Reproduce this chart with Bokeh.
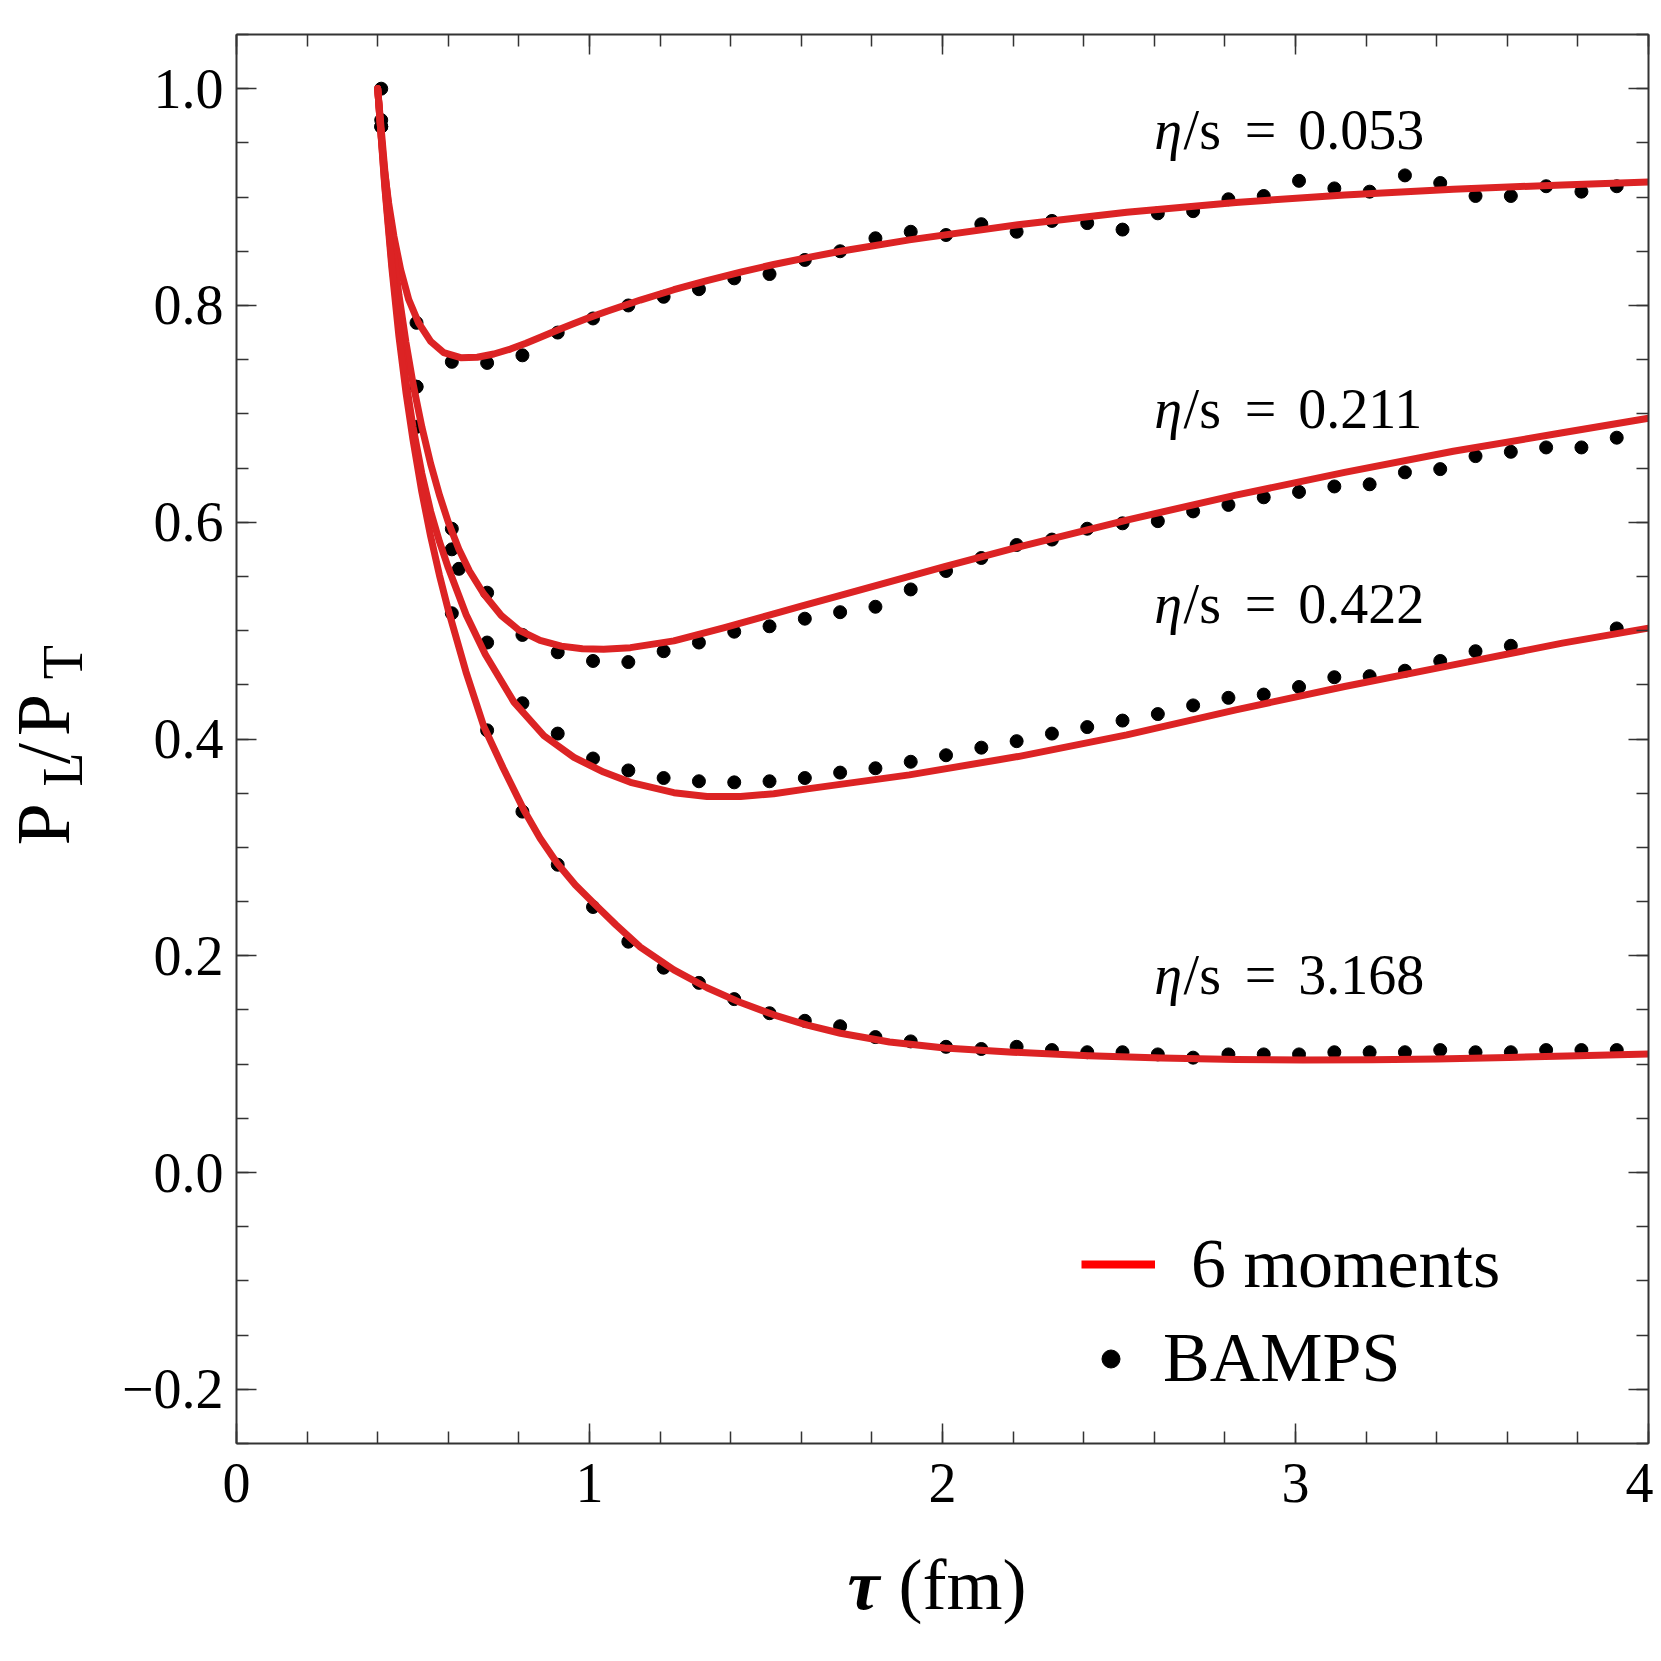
import math
from bokeh.plotting import figure
from bokeh.layouts import row, column
from bokeh.models import (Range1d, LinearAxis, FixedTicker, Label, Legend, LegendItem,
                          CustomJSTickFormatter)
from bokeh.embed import file_html
from bokeh.resources import INLINE

# ---------------- data ----------------
eta_values = ["0.053", "0.211", "0.422", "3.168"]

# BAMPS time grid (fm)
bamps_tau = [0.41, 0.51, 0.61, 0.71, 0.81, 0.91, 1.01, 1.11, 1.21, 1.31, 1.41, 1.51,
             1.61, 1.71, 1.81, 1.91, 2.01, 2.11, 2.21, 2.31, 2.41, 2.51, 2.61, 2.71,
             2.81, 2.91, 3.01, 3.11, 3.21, 3.31, 3.41, 3.51, 3.61, 3.71, 3.81, 3.91]

bamps_053 = [1.000, 0.784, 0.748, 0.747, 0.754, 0.775, 0.788, 0.800, 0.808, 0.815, 0.825, 0.829,
             0.842, 0.850, 0.862, 0.868, 0.865, 0.875, 0.868, 0.878, 0.876, 0.870, 0.885, 0.887,
             0.898, 0.901, 0.915, 0.908, 0.905, 0.920, 0.913, 0.901, 0.901, 0.910, 0.905, 0.910]

bamps_211 = [0.971, 0.725, 0.594, 0.535, 0.496, 0.480, 0.472, 0.471, 0.481, 0.489, 0.499, 0.504,
             0.511, 0.517, 0.522, 0.538, 0.555, 0.567, 0.579, 0.584, 0.594, 0.599, 0.601, 0.610,
             0.616, 0.623, 0.628, 0.633, 0.635, 0.646, 0.649, 0.661, 0.665, 0.669, 0.669, 0.678]

bamps_tau_422 = [0.41, 0.51, 0.61, 0.63, 0.71, 0.81, 0.91, 1.01, 1.11, 1.21, 1.31, 1.41, 1.51,
                 1.61, 1.71, 1.81, 1.91, 2.01, 2.11, 2.21, 2.31, 2.41, 2.51, 2.61, 2.71,
                 2.81, 2.91, 3.01, 3.11, 3.21, 3.31, 3.41, 3.51, 3.61, 3.91]
bamps_422 = [0.965, 0.725, 0.575, 0.557, 0.489, 0.433, 0.405, 0.382, 0.371, 0.364, 0.361, 0.360, 0.361,
             0.364, 0.369, 0.373, 0.379, 0.385, 0.392, 0.398, 0.405, 0.411, 0.417, 0.423, 0.431,
             0.438, 0.441, 0.448, 0.457, 0.458, 0.463, 0.472, 0.481, 0.486, 0.502]

bamps_3168 = [0.965, 0.688, 0.516, 0.408, 0.333, 0.284, 0.245, 0.213, 0.189, 0.175, 0.160, 0.147,
              0.140, 0.135, 0.125, 0.121, 0.116, 0.114, 0.116, 0.113, 0.111, 0.111, 0.109, 0.106,
              0.109, 0.109, 0.109, 0.111, 0.111, 0.111, 0.113, 0.111, 0.111, 0.113, 0.113, 0.113]

# 6-moment curves
mom_tau_053 = [0.400, 0.410, 0.419, 0.431, 0.446, 0.465, 0.488, 0.516, 0.550, 0.587, 0.635, 0.682,
               0.729, 0.776, 0.820, 0.861, 0.910, 0.956, 1.000, 1.050, 1.144, 1.239, 1.333, 1.428,
               1.522, 1.617, 1.711, 1.906, 2.214, 2.522, 2.831, 3.139, 3.447, 3.756, 4.000]
mom_053 = [1.000, 0.956, 0.925, 0.8945, 0.8637, 0.833, 0.8053, 0.7838, 0.7668, 0.7565, 0.7518, 0.7522,
           0.7552, 0.7598, 0.7652, 0.7707, 0.7773, 0.7833, 0.7888, 0.7947, 0.8050, 0.8145, 0.8230, 0.8308,
           0.8378, 0.8442, 0.8500, 0.8605, 0.8745, 0.8860, 0.8950, 0.9020, 0.9073, 0.9112, 0.9140]

mom_tau_211 = [0.400, 0.420, 0.440, 0.460, 0.480, 0.500, 0.525, 0.550, 0.575, 0.600, 0.630, 0.660,
               0.700, 0.750, 0.800, 0.860, 0.920, 0.980, 1.040, 1.116, 1.239, 1.380, 1.522, 1.600,
               1.711, 1.906, 2.006, 2.214, 2.522, 2.831, 3.139, 3.447, 3.756, 4.000]
mom_211 = [1.000, 0.925, 0.862, 0.810, 0.766, 0.728, 0.688, 0.654, 0.625, 0.600, 0.575, 0.555,
           0.534, 0.514, 0.5005, 0.491, 0.4857, 0.4832, 0.4828, 0.4843, 0.4905, 0.5025, 0.5155, 0.5225,
           0.5325, 0.5500, 0.5590, 0.5770, 0.6020, 0.6250, 0.6460, 0.6655, 0.6825, 0.6960]

mom_tau_422 = [0.400, 0.420, 0.440, 0.460, 0.480, 0.500, 0.525, 0.550, 0.575, 0.600, 0.650, 0.705,
               0.786, 0.871, 0.956, 1.040, 1.116, 1.239, 1.333, 1.428, 1.522, 1.617, 1.906, 2.214,
               2.522, 2.831, 3.139, 3.447, 3.756, 4.000]
mom_422 = [1.000, 0.912, 0.840, 0.780, 0.730, 0.688, 0.645, 0.610, 0.582, 0.558, 0.515, 0.478,
           0.434, 0.403, 0.383, 0.3695, 0.3600, 0.3505, 0.3470, 0.3470, 0.3495, 0.3540, 0.3669, 0.3838,
           0.4038, 0.4269, 0.4484, 0.4684, 0.4885, 0.5023]

mom_tau_3168 = [0.400, 0.420, 0.440, 0.460, 0.480, 0.500, 0.525, 0.550, 0.575, 0.600, 0.650, 0.7006,
                0.755, 0.814, 0.860, 0.9085, 0.960, 1.012, 1.075, 1.144, 1.239, 1.333, 1.428, 1.522,
                1.617, 1.711, 1.850, 2.006, 2.200, 2.414, 2.620, 2.831, 3.020, 3.217, 3.400, 3.603,
                3.800, 4.000]
mom_3168 = [1.000, 0.910, 0.835, 0.772, 0.720, 0.676, 0.628, 0.587, 0.551, 0.519, 0.462, 0.4115,
            0.3735, 0.3346, 0.3085, 0.2854, 0.2652, 0.2485, 0.2285, 0.2080, 0.1870, 0.1705, 0.1568, 0.1455,
            0.1360, 0.1285, 0.1205, 0.1150, 0.1110, 0.1078, 0.1056, 0.1043, 0.1038, 0.1040, 0.1047, 0.1062,
            0.1078, 0.1094]

x_ticks = [0, 1, 2, 3, 4]
y_ticks = [-0.2, 0.0, 0.2, 0.4, 0.6, 0.8, 1.0]

# ---------------- layout / style ----------------
FONT = "Liberation Serif"
RED = "#dc2324"
AX = "#333333"
BASE_FIX = 0.39   # shift (in em) that puts Bokeh's text anchor on the alphabetic baseline

# eta/s annotation anchors (data units)
eta_label_x = [2.600, 2.683, 2.856, 3.008]
eta_label_y = [0.942, 0.684, 0.504, 0.162]

LEFT_W, MAIN_W, MAIN_H, BOT_H = 100, 1553, 1523, 130

p = figure(width=MAIN_W, height=MAIN_H, x_range=Range1d(0, 4), y_range=Range1d(-0.25, 1.05),
           output_backend="svg", toolbar_location=None,
           x_axis_location=None, y_axis_location=None,
           min_border_left=136, min_border_right=5, min_border_top=34, min_border_bottom=80,
           background_fill_color="white", border_fill_color="white")
p.grid.visible = False
p.outline_line_color = None

x_minor = [round(0.2 * k, 2) for k in range(21)]
y_minor = [round(-0.25 + 0.05 * k, 2) for k in range(27)]

def make_axis(ticks, minor, labels):
    ax = LinearAxis(ticker=FixedTicker(ticks=ticks, minor_ticks=minor))
    ax.major_tick_in = 20
    ax.major_tick_out = 0
    ax.minor_tick_in = 12
    ax.minor_tick_out = 0
    ax.major_tick_line_color = AX
    ax.minor_tick_line_color = AX
    ax.major_tick_line_width = 1.5
    ax.minor_tick_line_width = 1.5
    ax.axis_line_color = AX
    ax.axis_line_width = 2
    ax.major_label_text_font = FONT
    ax.major_label_text_color = "black"
    if labels:
        ax.major_label_text_font_size = "56px"
    else:
        ax.major_label_text_font_size = "1px"
        ax.major_label_standoff = 0
        ax.formatter = CustomJSTickFormatter(code="return '';")
    return ax

bottom_axis = make_axis(x_ticks, x_minor, True)
bottom_axis.major_label_standoff = 20
left_axis = make_axis(y_ticks, y_minor, True)
left_axis.major_label_standoff = 13
left_axis.formatter = CustomJSTickFormatter(
    code="return (tick < -1e-9) ? '\\u2212' + Math.abs(tick).toFixed(1) : Math.abs(tick).toFixed(1);")
top_axis = make_axis(x_ticks, x_minor, False)
right_axis = make_axis(y_ticks, y_minor, False)
p.add_layout(bottom_axis, "below")
p.add_layout(left_axis, "left")
p.add_layout(top_axis, "above")
p.add_layout(right_axis, "right")

# ---------------- BAMPS points ----------------
for t, v in [(bamps_tau, bamps_053), (bamps_tau, bamps_211),
             (bamps_tau_422, bamps_422), (bamps_tau, bamps_3168)]:
    p.scatter(t, v, size=13, color="black")

# ---------------- 6-moment curves ----------------
for t, v in [(mom_tau_053, mom_053), (mom_tau_211, mom_211),
             (mom_tau_422, mom_422), (mom_tau_3168, mom_3168)]:
    p.line(t, v, line_color=RED, line_width=7, line_join="round", line_cap="round")

# ---------------- text helper ----------------
def add_label(fig, x, y, text, size_px, style="normal", angle=0.0):
    # compensate the anchor so the alphabetic baseline lands on (x, y)
    fix = BASE_FIX * size_px
    x_off, y_off = 0.0, 0.0
    if angle:
        x_off = -fix
        y = y - fix
    else:
        y_off = fix
    fig.add_layout(Label(x=x, y=y, text=text, x_offset=x_off, y_offset=y_off, angle=angle,
                         text_font=FONT, text_font_size=f"{size_px}px", text_font_style=style,
                         text_color="black", text_align="left", text_baseline="alphabetic"))

for ev, ly in zip(eta_values, eta_label_y):
    add_label(p, eta_label_x[0], ly, "\u03b7", 56, "italic")
    add_label(p, eta_label_x[1], ly, "/s", 56)
    add_label(p, eta_label_x[2], ly, "=", 56)
    add_label(p, eta_label_x[3], ly, ev, 56)

# ---------------- legend ----------------
nan = float("nan")
leg_line = p.line(x=[nan], y=[nan], line_color="#ff0000", line_width=8)
leg_dot = p.scatter(x=[nan], y=[nan], size=18, color="black")

lg1 = Legend(items=[LegendItem(label="6 moments", renderers=[leg_line])], location=(845, 139),
             glyph_width=74, glyph_height=20, label_standoff=36, padding=0, margin=0, spacing=0,
             border_line_color=None, background_fill_alpha=0,
             label_text_font=FONT, label_text_font_size="70px", label_text_color="black")
lg2 = Legend(items=[LegendItem(label="BAMPS", renderers=[leg_dot])], location=(852, 45),
             glyph_width=45, glyph_height=45, label_standoff=30, padding=0, margin=0, spacing=0,
             border_line_color=None, background_fill_alpha=0,
             label_text_font=FONT, label_text_font_size="70px", label_text_color="black")
p.add_layout(lg1)
p.add_layout(lg2)

# ---------------- axis titles (separate text panels) ----------------
def text_panel(w, h):
    f = figure(width=w, height=h, x_range=Range1d(0, w), y_range=Range1d(0, h),
               output_backend="svg", toolbar_location=None,
               x_axis_location=None, y_axis_location=None, min_border=0,
               background_fill_color="white", border_fill_color="white")
    f.grid.visible = False
    f.outline_line_color = None
    return f

ylab = text_panel(LEFT_W, MAIN_H)
half_pi = math.pi / 2
# pixel positions inside the panel: (baseline x, start y measured from the panel top)
for txt, size, bx, sy in [("P", 76, 72, 847), ("L", 56, 84, 791), ("/", 76, 72, 759),
                          ("P", 76, 72, 729), ("T", 56, 84, 675)]:
    add_label(ylab, bx, MAIN_H - sy, txt, size, angle=half_pi)

xlab = text_panel(LEFT_W + MAIN_W, BOT_H)
add_label(xlab, 847, BOT_H - 90, "\u03c4", 72, "bold italic")
add_label(xlab, 898, BOT_H - 90, "(fm)", 72)

layout = column(row(ylab, p), xlab)

with open("out.html", "w", encoding="utf-8") as f:
    f.write(file_html(layout, INLINE))
